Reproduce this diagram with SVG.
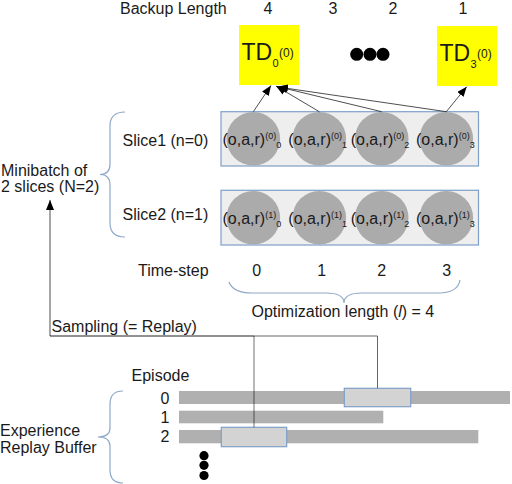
<svg xmlns="http://www.w3.org/2000/svg" width="512" height="484" viewBox="0 0 512 484">
<defs>
<style>
text{font-family:"Liberation Sans",Arial,sans-serif;fill:#1a1a1a;font-size:16px}
.sm{font-size:9px}
.td{font-size:23px}
.tds{font-size:11px}
.tdp{font-size:12px}
.brace{fill:none;stroke:#8fa8c8;stroke-width:1.2}
.circ{fill:#ababab}
.slice{fill:#eeeeee;stroke:#7f9fc8;stroke-width:1.2}
.bar{fill:#b0b0b0}
.hl{fill:#d3d3d3;stroke:#7f9fc8;stroke-width:1.2}
.arr{stroke:#222;stroke-width:0.8;fill:none;marker-end:url(#ah)}
</style>
<marker id="ah" viewBox="0 0 10 8" refX="10" refY="4" markerWidth="10" markerHeight="8" markerUnits="userSpaceOnUse" orient="auto">
<path d="M0,0 L10,4 L0,8 z" fill="#000"/>
</marker>
</defs>
<rect width="512" height="484" fill="#fff"/>

<g id="header">
<text x="120" y="13.5">Backup Length</text>
<text x="268" y="13.5" text-anchor="middle">4</text>
<text x="333" y="13.5" text-anchor="middle">3</text>
<text x="393" y="13.5" text-anchor="middle">2</text>
<text x="463" y="13.5" text-anchor="middle">1</text>
</g>

<g id="td0">
<rect x="239" y="25" width="60" height="60" fill="#ffff00"/>
<text x="241.5" y="59.5" class="td">TD</text>
<text x="272.5" y="67.3" class="tds">0</text>
<text x="279" y="57" class="tdp">(0)</text>
</g>
<g id="ellipsis">
<circle cx="356.7" cy="54.3" r="6.5" fill="#000"/>
<circle cx="370" cy="54.3" r="6.5" fill="#000"/>
<circle cx="383" cy="54.3" r="6.5" fill="#000"/>
</g>
<g id="td3">
<rect x="437" y="26" width="60" height="60" fill="#ffff00"/>
<text x="439.5" y="60.5" class="td">TD</text>
<text x="470.5" y="68.3" class="tds">3</text>
<text x="477" y="58" class="tdp">(0)</text>
</g>

<g id="slice1">
<text x="122.5" y="146">Slice1 (n=0)</text>
<rect x="221" y="111.7" width="257.5" height="54.3" class="slice"/>
<circle cx="253.3" cy="138.8" r="26.8" class="circ"/>
<circle cx="319.3" cy="138.8" r="26.8" class="circ"/>
<circle cx="381.7" cy="138.8" r="26.8" class="circ"/>
<circle cx="446.3" cy="138.8" r="26.8" class="circ"/>
<text x="222.5" y="145">(o,a,r)<tspan class="sm" dy="-6.5">(0)</tspan><tspan class="sm" dy="9.5">0</tspan></text>
<text x="288.3" y="145">(o,a,r)<tspan class="sm" dy="-6.5">(0)</tspan><tspan class="sm" dy="9.5">1</tspan></text>
<text x="350.7" y="145">(o,a,r)<tspan class="sm" dy="-6.5">(0)</tspan><tspan class="sm" dy="9.5">2</tspan></text>
<text x="416" y="145">(o,a,r)<tspan class="sm" dy="-6.5">(0)</tspan><tspan class="sm" dy="9.5">3</tspan></text>
</g>

<g id="slice2">
<text x="122.5" y="220">Slice2 (n=1)</text>
<rect x="221" y="190.3" width="257.5" height="54.7" class="slice"/>
<circle cx="253.3" cy="217.7" r="26.8" class="circ"/>
<circle cx="319.3" cy="217.7" r="26.8" class="circ"/>
<circle cx="381.7" cy="217.7" r="26.8" class="circ"/>
<circle cx="446.3" cy="217.7" r="26.8" class="circ"/>
<text x="222.5" y="224">(o,a,r)<tspan class="sm" dy="-6.5">(1)</tspan><tspan class="sm" dy="9.5">0</tspan></text>
<text x="288.3" y="224">(o,a,r)<tspan class="sm" dy="-6.5">(1)</tspan><tspan class="sm" dy="9.5">1</tspan></text>
<text x="350.7" y="224">(o,a,r)<tspan class="sm" dy="-6.5">(1)</tspan><tspan class="sm" dy="9.5">2</tspan></text>
<text x="416" y="224">(o,a,r)<tspan class="sm" dy="-6.5">(1)</tspan><tspan class="sm" dy="9.5">3</tspan></text>
</g>

<g id="minibatch">
<path class="brace" d="M125,112 Q110,112 110,126 L110,164 Q110,174.5 100,174.5 Q110,174.5 110,185 L110,223 Q110,237 125,237"/>
<text x="1" y="176">Minibatch of</text>
<text x="1" y="192">2 slices (N=2)</text>
</g>

<g id="timestep">
<text x="138" y="276">Time-step</text>
<text x="256.7" y="276" text-anchor="middle">0</text>
<text x="321.7" y="276" text-anchor="middle">1</text>
<text x="381.7" y="276" text-anchor="middle">2</text>
<text x="446.7" y="276" text-anchor="middle">3</text>
<path class="brace" d="M229,282 Q233,293 252,293 L326,293 Q344,293 344,303 Q344,293 362,293 L441,293 Q458,292 460,280"/>
<text x="251.5" y="316.5">Optimization length (<tspan font-style="italic">l</tspan>) = 4</text>
</g>

<g id="buffer">
<text x="131.5" y="380.5">Episode</text>
<text x="165" y="403.5" text-anchor="middle">0</text>
<text x="165" y="422.5" text-anchor="middle">1</text>
<text x="165" y="441.5" text-anchor="middle">2</text>
<rect x="179" y="391" width="331" height="13" class="bar"/>
<rect x="179" y="410.7" width="204.3" height="12.6" class="bar"/>
<rect x="179" y="430" width="299.3" height="13.3" class="bar"/>
<rect x="344.3" y="388.3" width="66.4" height="18.4" class="hl"/>
<rect x="221.3" y="427.3" width="65.4" height="19.4" class="hl"/>
<circle cx="204" cy="455.7" r="4.6" fill="#000"/>
<circle cx="204" cy="465.3" r="4.6" fill="#000"/>
<circle cx="204" cy="475.5" r="4.6" fill="#000"/>
<path class="brace" d="M123,391 Q110,391 110,404 L110,428 Q110,437 98,437 Q110,437 110,446 L110,470 Q110,483 123,483"/>
<text x="0" y="436">Experience</text>
<text x="0" y="453.3">Replay Buffer</text>
</g>

<g id="connectors">
<line class="arr" x1="253.3" y1="111.7" x2="271" y2="85.5"/>
<line class="arr" x1="319.3" y1="111.7" x2="276" y2="86"/>
<line class="arr" x1="381.7" y1="111.7" x2="277" y2="86.5"/>
<line class="arr" x1="446.3" y1="111.7" x2="278" y2="87"/>
<line class="arr" x1="446.3" y1="111.7" x2="466.7" y2="86.7"/>
<text x="51.5" y="331.5">Sampling (= Replay)</text>
<polyline points="50,336 50,200" class="arr" stroke-width="1"/>
<line x1="50" y1="336" x2="254" y2="336" stroke="#222" stroke-width="1"/>
<polyline points="254,336 377.5,336 377.5,388.3" fill="none" stroke="#666" stroke-width="1"/>
<line x1="254" y1="336" x2="254" y2="427.3" stroke="#000" stroke-opacity="0.28" stroke-width="2"/>
</g>
</svg>
